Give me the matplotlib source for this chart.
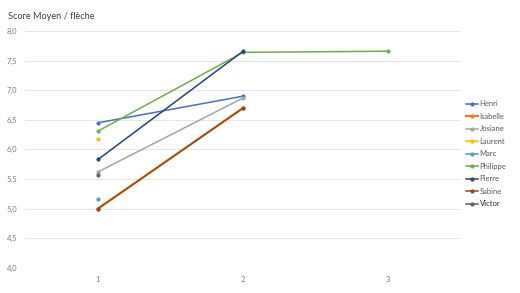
import numpy as np
import matplotlib
matplotlib.use('Agg')
import matplotlib.pyplot as plt

# ============================================================
# DONNEES
# ============================================================
categories = [1, 2, 3]
noms = ['Henri', 'Isabelle', 'Josiane', 'Laurent', 'Marc',
        'Philippe', 'Pierre', 'Sabine', 'Victor']

henri = [6.45, 6.90, np.nan]
isabelle = [5.00, 6.70, np.nan]
josiane = [5.62, 6.87, np.nan]
laurent = [6.17, np.nan, np.nan]
marc = [5.17, np.nan, np.nan]
philippe = [6.31, 7.64, 7.66]
pierre = [5.83, 7.66, np.nan]
sabine = [5.00, 6.70, np.nan]
victor = [5.57, np.nan, np.nan]

series = [henri, isabelle, josiane, laurent, marc,
          philippe, pierre, sabine, victor]

# palette Excel
couleurs = ['#4472C4', '#ED7D31', '#A5A5A5', '#FFC000', '#5B9BD5',
            '#70AD47', '#264478', '#9E480E', '#636363']

yticks = [4.0, 4.5, 5.0, 5.5, 6.0, 6.5, 7.0, 7.5, 8.0]

plt.rcParams['font.family'] = ['Lato', 'DejaVu Sans']

fig = plt.figure(figsize=(5.2, 2.93), dpi=100)
ax = fig.add_axes([0.049, 0.086, 0.837, 0.808])

for nom, vals, c in zip(noms, series, couleurs):
    # Isabelle est cachee sous Sabine : trait un peu plus large
    lw = 1.6 if nom == 'Isabelle' else 1.1
    ax.plot(categories, vals, color=c, linewidth=lw, marker='o',
            markersize=2.0, label=nom)

ax.set_xlim(0.5, 3.5)
ax.set_ylim(4, 8)
ax.set_xticks(categories)
ax.set_xticklabels([str(c) for c in categories])
ax.set_yticks(yticks)
ax.set_yticklabels([f'{v:.1f}'.replace('.', ',') for v in yticks])
ax.tick_params(axis='both', length=0, labelsize=5.5, colors='#7f7f7f', pad=6)
ax.grid(True, axis='y', color='#e6e6e6', linewidth=0.7)
for s in ax.spines.values():
    s.set_visible(False)
ax.set_axisbelow(True)

fig.text(0.015, 0.945, 'Score Moyen / flèche', fontsize=6.6, color='#404040',
         va='center')

leg = ax.legend(loc='upper left', bbox_to_anchor=(1.005, 0.72), frameon=False,
                fontsize=5.5, handlelength=1.6, handletextpad=0.2,
                labelspacing=0.72, borderaxespad=0)
for t in leg.get_texts():
    t.set_color('#595959')
leg.get_texts()[-1].set_color('#262626')

plt.savefig('out.png', dpi=100)
